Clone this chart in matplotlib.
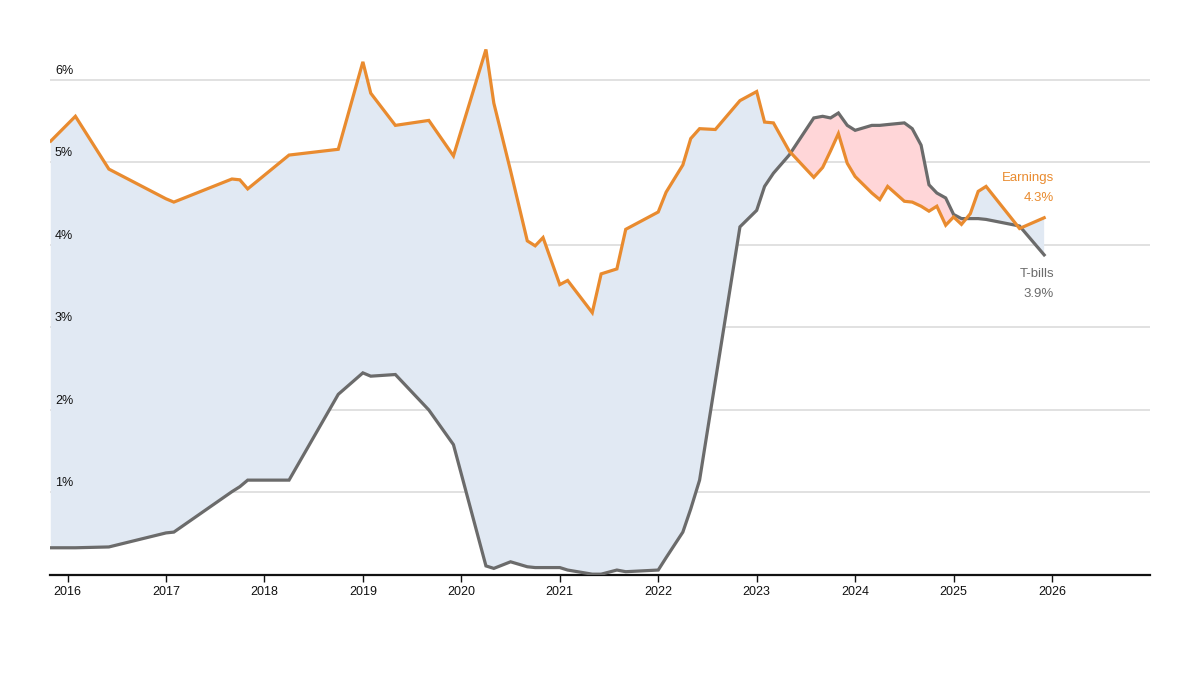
import numpy as np
import matplotlib
matplotlib.use("Agg")
import matplotlib.pyplot as plt

plt.rcParams['font.family'] = ['Liberation Sans', 'DejaVu Sans']

# Dates as decimal years
dates = [2015.83, 2016.08, 2016.42, 2017.00, 2017.08, 2017.67, 2017.75, 2017.83,
         2018.25, 2018.75, 2019.00, 2019.08, 2019.33, 2019.67, 2019.92,
         2020.25, 2020.33, 2020.50, 2020.67, 2020.75, 2020.83,
         2021.00, 2021.08, 2021.33, 2021.42, 2021.58, 2021.67,
         2022.00, 2022.08, 2022.25, 2022.33, 2022.42, 2022.58, 2022.83,
         2023.00, 2023.08, 2023.17, 2023.33, 2023.58, 2023.67, 2023.75, 2023.83, 2023.92,
         2024.00, 2024.17, 2024.25, 2024.33, 2024.50, 2024.58, 2024.67, 2024.75, 2024.83, 2024.92,
         2025.00, 2025.08, 2025.17, 2025.25, 2025.33, 2025.67, 2025.92]

earnings = [5.26, 5.56, 4.92, 4.56, 4.52, 4.80, 4.79, 4.68,
            5.09, 5.16, 6.22, 5.84, 5.45, 5.51, 5.08,
            6.37, 5.72, 4.90, 4.05, 3.99, 4.09,
            3.52, 3.57, 3.18, 3.65, 3.71, 4.19,
            4.40, 4.64, 4.97, 5.29, 5.41, 5.40, 5.75,
            5.86, 5.49, 5.48, 5.14, 4.82, 4.94, 5.14, 5.35, 4.99,
            4.83, 4.63, 4.55, 4.71, 4.53, 4.52, 4.47, 4.41, 4.47, 4.24,
            4.34, 4.25, 4.38, 4.65, 4.71, 4.20, 4.33]

tbills = [0.33, 0.33, 0.34, 0.51, 0.52, 1.01, 1.07, 1.15,
          1.15, 2.19, 2.45, 2.41, 2.43, 2.00, 1.58,
          0.11, 0.08, 0.16, 0.10, 0.09, 0.09,
          0.09, 0.06, 0.01, 0.01, 0.06, 0.04,
          0.06, 0.21, 0.52, 0.80, 1.15, 2.35, 4.22,
          4.42, 4.71, 4.87, 5.09, 5.54, 5.56, 5.54, 5.60, 5.45,
          5.39, 5.45, 5.45, 5.46, 5.48, 5.41, 5.21, 4.73, 4.63, 4.57,
          4.37, 4.32, 4.32, 4.32, 4.31, 4.23, 3.88]

year_ticks = list(range(2016, 2027))
pct_ticks = [1, 2, 3, 4, 5, 6]

ORANGE = '#e98b2f'
GRAY = '#6b6b6b'
BLUE_FILL = '#e1e9f3'
RED_FILL = '#ffd6d8'

W, H = 1200, 675
fig = plt.figure(figsize=(W / 100, H / 100), dpi=100)
ax = fig.add_axes([50 / W, 100 / H, 1100 / W, 545 / H])

d = np.array(dates)
e = np.array(earnings)
t = np.array(tbills)

ax.fill_between(d, e, t, where=e >= t, interpolate=True, color=BLUE_FILL, lw=0, zorder=1)
ax.fill_between(d, e, t, where=e < t, interpolate=True, color=RED_FILL, lw=0, zorder=1)

for p in pct_ticks:
    ax.axhline(p, color='#dcdcdc', lw=1.2, zorder=0.5)
    ax.annotate(f"{p}%", xy=(0, p), xycoords=('axes fraction', 'data'),
                xytext=(5, 3), textcoords='offset pixels', ha='left', va='bottom',
                fontsize=9, color='#111111')

ax.plot(d, t, color=GRAY, lw=2.3, zorder=3, solid_joinstyle='miter')
ax.plot(d, e, color=ORANGE, lw=2.3, zorder=4, solid_joinstyle='miter')

ax.set_xlim(2015.822, 2026.995)
ax.set_ylim(0, 6.606)

ax.set_xticks(year_ticks)
ax.set_xticklabels([str(y) for y in year_ticks], fontsize=9, color='#111111')
ax.set_yticks([])
ax.tick_params(axis='x', direction='out', length=5, width=1, color='#111111', pad=3)

for s in ['top', 'right', 'left']:
    ax.spines[s].set_visible(False)
ax.spines['bottom'].set_color('#111111')
ax.spines['bottom'].set_linewidth(1.6)

ax.annotate("Earnings", xy=(d[-1], e[-1]), xytext=(10, 40), textcoords='offset pixels',
            ha='right', va='center', fontsize=9.5, color=ORANGE)
ax.annotate(f"{e[-1]:.1f}%", xy=(d[-1], e[-1]), xytext=(10, 20), textcoords='offset pixels',
            ha='right', va='center', fontsize=9.5, color=ORANGE)
ax.annotate("T-bills", xy=(d[-1], t[-1]), xytext=(10, -19), textcoords='offset pixels',
            ha='right', va='center', fontsize=9.5, color=GRAY)
ax.annotate(f"{t[-1]:.1f}%", xy=(d[-1], t[-1]), xytext=(10, -39), textcoords='offset pixels',
            ha='right', va='center', fontsize=9.5, color=GRAY)

fig.savefig("out.png", dpi=100, facecolor='white')
